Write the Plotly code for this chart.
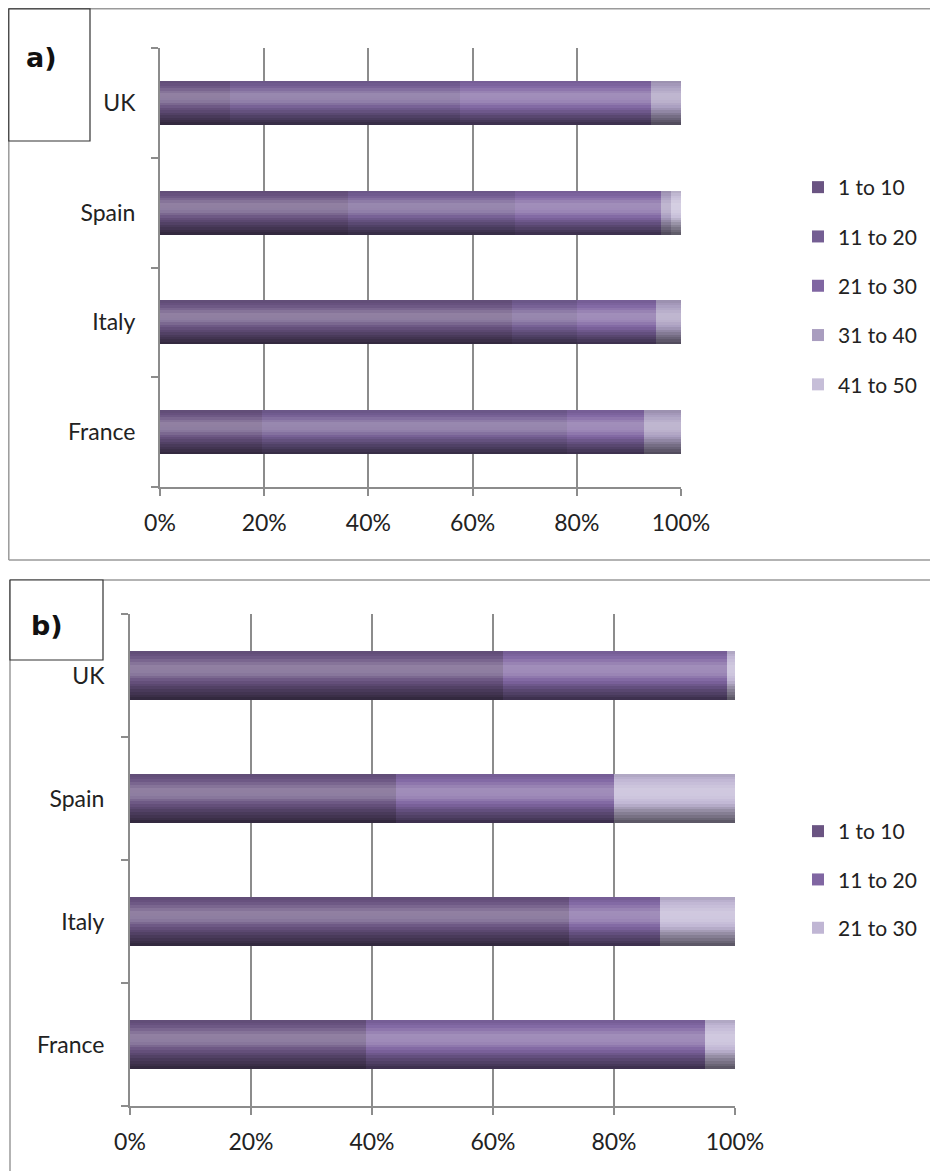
import numpy as np
import plotly.graph_objects as go

# ---------------- data ----------------
countries = ["France", "Italy", "Spain", "UK"]

groups_a = ["1 to 10", "11 to 20", "21 to 30", "31 to 40", "41 to 50"]
a_1_10 = [19.6, 67.6, 36.1, 13.4]
a_11_20 = [58.6, 12.5, 32.1, 44.1]
a_21_30 = [14.7, 15.1, 28.0, 36.7]
a_31_40 = [7.1, 4.8, 1.9, 5.8]
a_41_50 = [0.0, 0.0, 1.9, 0.0]

groups_b = ["1 to 10", "11 to 20", "21 to 30"]
b_1_10 = [39.0, 72.5, 44.0, 61.7]
b_11_20 = [56.1, 15.1, 36.0, 36.9]
b_21_30 = [4.9, 12.4, 20.0, 1.4]

x_tick_values = [0, 20, 40, 60, 80, 100]
x_tick_labels = ["0%", "20%", "40%", "60%", "80%", "100%"]

# ---------------- style ----------------
W, H = 938, 1171
OFF = 8  # page body margin
FONT = "Lato"
TXT = "#222222"
GRID = "#8c8c8c"
FRAME = "#9a9a9a"

colors_a = ["#6a5482", "#745e93", "#8066a2", "#a99dbf", "#c6bed8"]
colors_b = ["#6a5482", "#8066a2", "#c0b6d4"]

# shading keypoints across the bar thickness (0 = top, 1 = bottom)
SHADE_T = [0.0, 0.12, 0.3, 0.45, 0.6, 0.8, 1.0]
SHADE_F = [-0.1, 0.0, 0.26, 0.24, 0.0, -0.3, -0.55]
N_STRIPS = 18
BAR_W = 0.4


def hex2rgb(h):
    h = h.lstrip("#")
    return [int(h[i:i + 2], 16) for i in (0, 2, 4)]


def shade(hexcol, f):
    r, g, b = hex2rgb(hexcol)
    if f >= 0:
        r, g, b = [c + (255 - c) * f for c in (r, g, b)]
    else:
        r, g, b = [c * (1 + f) for c in (r, g, b)]
    return "rgb(%d,%d,%d)" % (round(r), round(g), round(b))


def px_x(x):
    return (x - OFF) / W


def px_y(y):
    return 1 - (y - OFF) / H


fig = go.Figure()


def add_panel(series, names, colors, xa, ya, legend):
    vals = np.array(series, dtype=float)
    bases = np.vstack([np.zeros(vals.shape[1]), np.cumsum(vals, axis=0)[:-1]])
    step = BAR_W / N_STRIPS
    for k, name in enumerate(names):
        grp = legend + "_" + name
        fig.add_trace(go.Bar(
            y=countries, x=vals[k], base=bases[k], orientation="h",
            width=BAR_W, offset=-BAR_W / 2,
            marker=dict(color=colors[k], line=dict(width=0)),
            name=name, legend=legend, legendgroup=grp, showlegend=True,
            xaxis=xa, yaxis=ya, hoverinfo="skip",
        ))
        for i in range(N_STRIPS):
            t = (i + 0.5) / N_STRIPS
            f = float(np.interp(t, SHADE_T, SHADE_F))
            fig.add_trace(go.Bar(
                y=countries, x=vals[k], base=bases[k], orientation="h",
                width=BAR_W - i * step, offset=-BAR_W / 2,
                marker=dict(color=shade(colors[k], f), line=dict(width=0)),
                name=name, legend=legend, legendgroup=grp, showlegend=False,
                xaxis=xa, yaxis=ya, hoverinfo="skip",
            ))


add_panel([a_1_10, a_11_20, a_21_30, a_31_40, a_41_50], groups_a, colors_a, "x", "y", "legend")
add_panel([b_1_10, b_11_20, b_21_30], groups_b, colors_b, "x2", "y2", "legend2")

xcommon = dict(range=[0, 100], tickvals=x_tick_values, ticktext=x_tick_labels,
               showgrid=True, gridcolor=GRID, gridwidth=2, zeroline=False,
               showline=True, linecolor=GRID, linewidth=2, ticks="outside",
               ticklen=7, tickwidth=2, tickcolor=GRID, automargin=False,
               ticklabelstandoff=7,
               tickfont=dict(family=FONT, size=23, color=TXT), fixedrange=True)
ycommon = dict(type="category", categoryorder="array", categoryarray=countries,
               range=[-0.5, 3.5], showgrid=False, zeroline=False, showline=True,
               linecolor=GRID, linewidth=2, ticks="outside", tickson="boundaries",
               ticklen=7, tickwidth=2, tickcolor=GRID, automargin=False,
               tickfont=dict(family=FONT, size=23, color=TXT), fixedrange=True)

legcommon = dict(font=dict(family=FONT, size=21, color=TXT), bgcolor="rgba(0,0,0,0)",
                 xanchor="left", yanchor="top", traceorder="grouped",
                 itemclick=False, itemdoubleclick=False)

fig.update_layout(
    width=W, height=H, autosize=False,
    margin=dict(l=0, r=0, t=0, b=0, pad=0, autoexpand=False),
    paper_bgcolor="white", plot_bgcolor="white",
    barmode="overlay", bargap=0,
    xaxis=dict(domain=[px_x(160), px_x(681)], anchor="y", **xcommon),
    yaxis=dict(domain=[px_y(487), px_y(48)], anchor="x", ticklabelstandoff=18, **ycommon),
    xaxis2=dict(domain=[px_x(130), px_x(735)], anchor="y2", **xcommon),
    yaxis2=dict(domain=[px_y(1106), px_y(614)], anchor="x2", ticklabelstandoff=19, **ycommon),
    legend=dict(x=px_x(798), y=px_y(167), tracegroupgap=19, **legcommon),
    legend2=dict(x=px_x(798), y=px_y(811), tracegroupgap=18, **legcommon),
    showlegend=True,
)

# panel frames
line = dict(color=FRAME, width=1.5)
shapes = [
    dict(type="line", x0=px_x(8.8), x1=px_x(946), y0=px_y(8.8), y1=px_y(8.8)),
    dict(type="line", x0=px_x(8.8), x1=px_x(8.8), y0=px_y(8.8), y1=px_y(560)),
    dict(type="line", x0=px_x(8.8), x1=px_x(946), y0=px_y(560), y1=px_y(560)),
    dict(type="line", x0=px_x(10), x1=px_x(946), y0=px_y(580), y1=px_y(580)),
    dict(type="line", x0=px_x(10), x1=px_x(10), y0=px_y(580), y1=px_y(1179)),
]
for s in shapes:
    fig.add_shape(xref="paper", yref="paper", line=line, **s)

# label boxes
for (x0, y0, x1, y1) in [(8.8, 8.8, 90, 141), (10, 580, 103, 660)]:
    fig.add_shape(type="rect", xref="paper", yref="paper",
                  x0=px_x(x0), x1=px_x(x1), y0=px_y(y1), y1=px_y(y0),
                  fillcolor="white", line=dict(color="#333333", width=1.2), layer="above")

for txt, cx, cy in [("a)", 41, 58), ("b)", 47, 625)]:
    fig.add_annotation(xref="paper", yref="paper", x=px_x(cx), y=px_y(cy),
                       text="<b>%s</b>" % txt, showarrow=False,
                       font=dict(family="DejaVu Sans", size=27, color="#111111"),
                       xanchor="center", yanchor="middle")

fig.write_html("out.html")
